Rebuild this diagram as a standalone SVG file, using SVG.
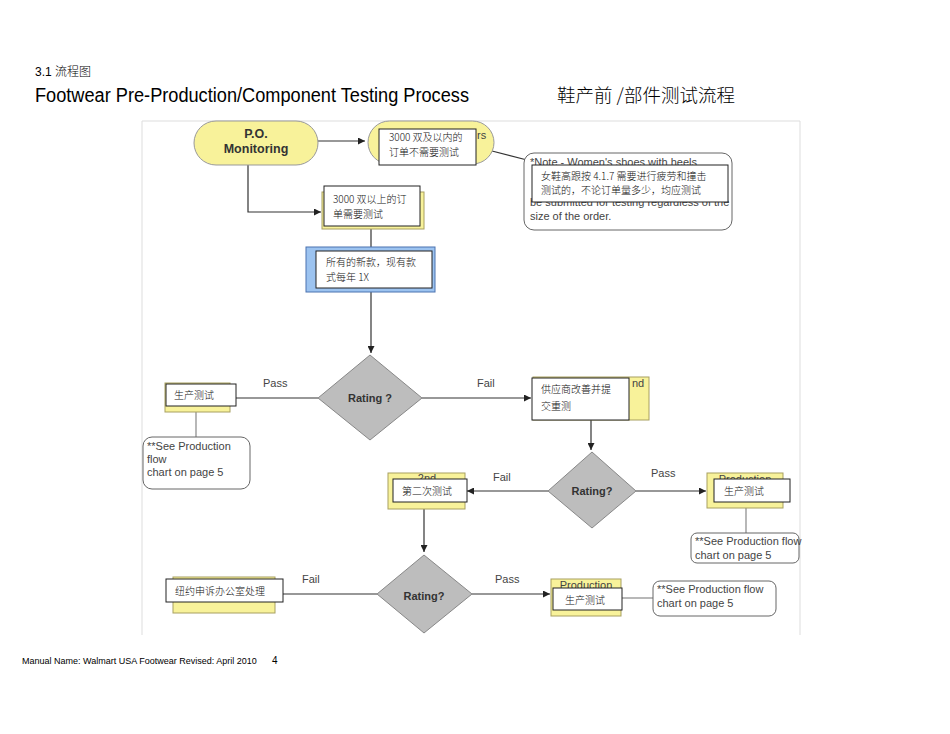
<svg xmlns="http://www.w3.org/2000/svg" width="950" height="734" viewBox="0 0 950 734">
<defs>
<marker id="ah" viewBox="0 0 10 10" refX="10" refY="5" markerWidth="7" markerHeight="7" markerUnits="userSpaceOnUse" orient="auto"><path d="M0,0 L10,5 L0,10 z" fill="#222"/></marker>
<clipPath id="clipP2"><rect x="707" y="473" width="76" height="6"/></clipPath>
<clipPath id="clipP3"><rect x="551" y="579" width="70" height="9"/></clipPath>
<clipPath id="clip2nd"><rect x="388" y="473" width="77" height="6"/></clipPath>
<style>
.t{font-family:"Liberation Sans",Arial,"Noto Sans CJK SC",sans-serif;fill:#000}
.cn{font-family:"Noto Sans CJK SC","Liberation Sans",sans-serif;font-size:10px;font-weight:300;fill:#111}
.en{font-family:"Liberation Sans",Arial,sans-serif;font-size:11px;fill:#444}
.bold{font-family:"Liberation Sans",Arial,sans-serif;font-weight:bold;fill:#333}
.yel{fill:#f8f29a;stroke:#a8a060;stroke-width:1}
.wht{fill:#fff;stroke:#222;stroke-width:1}
.dia{fill:#bdbdbd;stroke:#888;stroke-width:1}
.note{fill:#fff;stroke:#666;stroke-width:1}
.c{fill:none;stroke:#333;stroke-width:1.2}
.g{fill:none;stroke:#888;stroke-width:1.2}
.frame{fill:none;stroke:#ddd;stroke-width:1}
</style>
</defs>
<rect width="950" height="734" fill="#fff"/>
<text class="t" x="35" y="76" font-size="12">3.1  <tspan font-family="Noto Sans CJK SC,sans-serif" font-weight="300">流程图</tspan></text>
<text class="t" x="35" y="102" font-size="19.5" textLength="434" lengthAdjust="spacingAndGlyphs">Footwear Pre-Production/Component Testing Process</text>
<text x="557" y="102" font-size="18.5" font-family="Noto Sans CJK SC,sans-serif" font-weight="300" fill="#000">鞋产前 /部件测试流程</text>
<text class="t" x="22" y="664" font-size="9">Manual Name: Walmart USA Footwear Revised: April 2010</text>
<text class="t" x="272" y="664" font-size="10">4</text>
<path class="frame" d="M142,635 V121 H800 V635"/>
<g id="connectors">
<path class="c" d="M318,141 H365" marker-end="url(#ah)"/>
<path class="c" d="M248,165 V212 H321" marker-end="url(#ah)"/>
<path class="c" d="M492,151 L527,160"/>
<path class="c" d="M371,227 V247"/>
<path class="c" d="M371,292 V353" marker-end="url(#ah)"/>
<path class="c" d="M318,398 H236"/>
<path class="c" d="M422,398 H531" marker-end="url(#ah)"/>
<path class="g" d="M196,412 V437"/>
<path class="c" d="M591,420 V450" marker-end="url(#ah)"/>
<path class="c" d="M636,491 H706" marker-end="url(#ah)"/>
<path class="g" d="M746,508 V533"/>
<path class="c" d="M548,491 H467" marker-end="url(#ah)"/>
<path class="c" d="M424,509 V552" marker-end="url(#ah)"/>
<path class="c" d="M377,594 H283"/>
<path class="c" d="M472,594 H550" marker-end="url(#ah)"/>
<path class="g" d="M622,598 H653"/>
<text class="en" x="263" y="387">Pass</text>
<text class="en" x="477" y="387">Fail</text>
<text class="en" x="493" y="481">Fail</text>
<text class="en" x="651" y="477">Pass</text>
<text class="en" x="302" y="583">Fail</text>
<text class="en" x="495" y="583">Pass</text>
</g>
<g id="po-monitoring">
<rect x="194" y="121" width="124" height="44" rx="22" fill="#f8f29a" stroke="#999"/>
<text class="bold" x="256" y="138" font-size="12.5" text-anchor="middle">P.O.</text>
<text class="bold" x="256" y="153" font-size="12.5" text-anchor="middle">Monitoring</text>
</g>
<g id="no-test">
<rect x="368" y="121" width="126" height="43" rx="21.5" fill="#f8f29a" stroke="#999"/>
<text class="en" x="477" y="139">rs</text>
<rect class="wht" x="379" y="129" width="97" height="36"/>
<text class="cn" x="389" y="141">3000 双及以内的</text>
<text class="cn" x="389" y="156">订单不需要测试</text>
</g>
<g id="note-heels">
<rect class="note" x="524" y="153" width="208" height="77" rx="10"/>
<text class="en" x="530" y="166">*Note - Women's shoes with heels</text>
<text class="en" x="530" y="206">be submitted for testing regardless of the</text>
<text class="en" x="530" y="220">size of the order.</text>
<rect class="wht" x="532" y="165" width="196" height="37"/>
<text class="cn" x="541" y="180">女鞋高跟按   4.1.7 需要进行疲劳和撞击</text>
<text class="cn" x="541" y="194">测试的，不论订单量多少，均应测试</text>
</g>
<g id="over-3000">
<rect class="yel" x="322" y="192" width="102" height="37"/>
<rect class="wht" x="324" y="186" width="96" height="40"/>
<text class="cn" x="333" y="203">3000 双以上的订</text>
<text class="cn" x="333" y="218">单需要测试</text>
</g>
<g id="all-styles">
<rect x="306" y="247" width="129" height="45" fill="#9cc3f0" stroke="#4a72b0"/>
<rect class="wht" x="316" y="251" width="116" height="37"/>
<text class="cn" x="326" y="266">所有的新款，现有款</text>
<text class="cn" x="326" y="281">式每年  1X</text>
</g>
<g id="rating1">
<polygon class="dia" points="370,355 422,398 370,440 318,398"/>
<text class="bold" x="370" y="402" font-size="11" text-anchor="middle">Rating ?</text>
</g>
<g id="prod1">
<rect class="yel" x="165" y="383" width="65" height="29"/>
<rect class="wht" x="166" y="384" width="70" height="22"/>
<text class="cn" x="174" y="399">生产测试</text>
</g>
<g id="note1">
<rect class="note" x="143" y="437" width="107" height="52" rx="9"/>
<text class="en" x="147" y="450">**See Production</text>
<text class="en" x="147" y="463">flow</text>
<text class="en" x="147" y="476">chart on page 5</text>
</g>
<g id="resubmit">
<rect class="yel" x="533" y="377" width="116" height="43"/>
<text class="en" x="632" y="387">nd</text>
<rect class="wht" x="532" y="378" width="97" height="42"/>
<text class="cn" x="541" y="393">供应商改善并提</text>
<text class="cn" x="541" y="410">交重测</text>
</g>
<g id="rating2">
<polygon class="dia" points="592,452 636,491 592,528 548,491"/>
<text class="bold" x="592" y="495" font-size="11" text-anchor="middle">Rating?</text>
</g>
<g id="prod2">
<rect class="yel" x="707" y="473" width="76" height="35"/>
<text class="en" x="745" y="483" text-anchor="middle" clip-path="url(#clipP2)">Production</text>
<rect class="wht" x="714" y="479" width="76" height="23"/>
<text class="cn" x="724" y="495">生产测试</text>
</g>
<g id="note2">
<rect class="note" x="691" y="533" width="108" height="30" rx="6"/>
<text class="en" x="695" y="545">**See Production flow</text>
<text class="en" x="695" y="559">chart on page 5</text>
</g>
<g id="second-test">
<rect class="yel" x="388" y="473" width="77" height="36"/>
<text class="en" x="427" y="482" text-anchor="middle" clip-path="url(#clip2nd)">2nd</text>
<rect class="wht" x="393" y="479" width="74" height="23"/>
<text class="cn" x="402" y="495">第二次测试</text>
</g>
<g id="rating3">
<polygon class="dia" points="424,555 472,594 424,633 377,594"/>
<text class="bold" x="424" y="600" font-size="11" text-anchor="middle">Rating?</text>
</g>
<g id="ny-appeal">
<rect class="yel" x="173" y="577" width="102" height="36"/>
<rect class="wht" x="166" y="579" width="117" height="23"/>
<text class="cn" x="175" y="595">纽约申诉办公室处理</text>
</g>
<g id="prod3">
<rect class="yel" x="551" y="579" width="70" height="37"/>
<text class="en" x="586" y="589" text-anchor="middle" clip-path="url(#clipP3)">Production</text>
<rect class="wht" x="553" y="588" width="69" height="22"/>
<text class="cn" x="565" y="604">生产测试</text>
</g>
<g id="note3">
<rect class="note" x="653" y="581" width="123" height="35" rx="7"/>
<text class="en" x="657" y="593">**See Production flow</text>
<text class="en" x="657" y="607">chart on page 5</text>
</g>
</svg>
